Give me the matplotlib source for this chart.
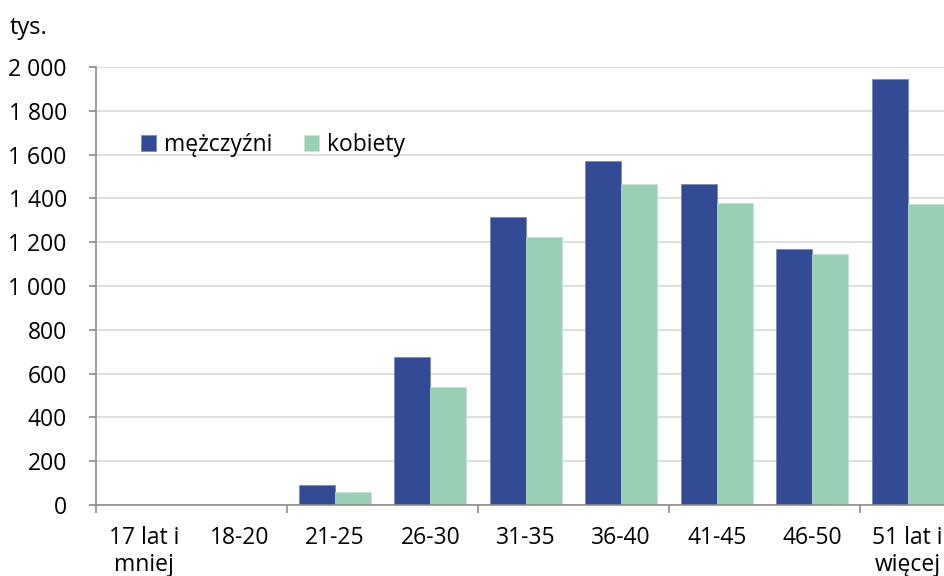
import matplotlib.pyplot as plt
import numpy as np
from matplotlib.ticker import FuncFormatter, MultipleLocator

# Data (thousands)
categories = ["17 lat i\nmniej", "18-20", "21-25", "26-30", "31-35",
              "36-40", "41-45", "46-50", "51 lat i\nwięcej"]
men = [0, 0, 91, 676, 1317, 1573, 1467, 1167, 1945]
women = [0, 0, 58, 537, 1224, 1467, 1380, 1145, 1374]
series_names = ["mężczyźni", "kobiety"]

c_men = "#334a94"
c_women = "#99cfb4"
grid_c = "#d9d9d9"
axis_c = "#8c8c8c"

plt.rcParams['font.family'] = ['Open Sans', 'DejaVu Sans']
fs = 16.5

fig = plt.figure(figsize=(9.44, 5.76), dpi=100)
ax = fig.add_axes([96 / 944, 1 - 505 / 576, 859.5 / 944, 438 / 576])

x = np.arange(len(categories))
w = 0.377
ax.bar(x - w / 2, men, w, color=c_men, label=series_names[0], zorder=3,
       edgecolor="#6a7bb5", linewidth=0.4)
ax.bar(x + w / 2, women, w, color=c_women, label=series_names[1], zorder=3,
       edgecolor="#c2e3d2", linewidth=0.4)

ax.set_xlim(-0.5, len(categories) - 0.5)
ax.set_ylim(0, 2000)
ax.yaxis.set_major_locator(MultipleLocator(200))
ax.yaxis.set_major_formatter(FuncFormatter(lambda v, p: f"{int(v):,}".replace(",", " ")))
ax.grid(axis="y", color=grid_c, linewidth=1.2, zorder=0)

ax.set_xticks(x)
ax.set_xticklabels(categories, fontsize=fs, linespacing=1.2)
ax.set_xticks(np.arange(-0.5, len(categories), 2), minor=True)
ax.tick_params(axis="x", which="major", length=0, pad=15)
ax.tick_params(axis="x", which="minor", length=6, width=1.2, color=axis_c)
ax.tick_params(axis="y", length=5, width=1.2, color=axis_c, pad=16, labelsize=fs)

for s in ["top", "right"]:
    ax.spines[s].set_visible(False)
for s in ["left", "bottom"]:
    ax.spines[s].set_color(axis_c)
    ax.spines[s].set_linewidth(1.2)
    ax.spines[s].set_zorder(4)

fig.text(10 / 944, 1 - 28 / 576, "tys.", fontsize=fs + 0.5, ha="left", va="center")

ax.legend(loc="center left", bbox_to_anchor=(141 / 944, 1 - 145 / 576),
          bbox_transform=fig.transFigure, frameon=False, ncol=2, fontsize=fs,
          handlelength=0.65, handleheight=0.65, handletextpad=0.35,
          columnspacing=1.4, borderpad=0, borderaxespad=0)

fig.savefig("out.png", dpi=100)
